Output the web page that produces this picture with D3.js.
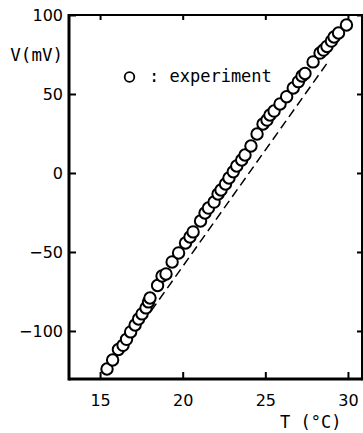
<!DOCTYPE html>
<html>
<head>
<meta charset="utf-8">
<script src="https://cdn.jsdelivr.net/npm/d3@7"></script>
<style>
  html, body { margin: 0; padding: 0; background: #fff; }
  svg { display: block; }
</style>
</head>
<body>
<svg id="chart" width="363" height="433"></svg>
<script>
// Measured temperature (°C) and voltage (mV)
const tempC = [15.42, 15.76, 16.11, 16.39, 16.60, 16.85, 17.12, 17.33, 17.54, 17.78,
  17.93, 18.02, 18.48, 18.75, 18.99, 19.36, 19.75, 20.17, 20.44, 20.63,
  21.08, 21.35, 21.56, 21.90, 22.14, 22.32, 22.59, 22.80, 23.06, 23.27,
  23.57, 23.77, 24.13, 24.50, 24.86, 25.10, 25.28, 25.53, 25.89, 26.29,
  26.69, 27.00, 27.22, 27.40, 27.89, 28.31, 28.52, 28.73, 29.00, 29.16,
  29.43, 29.91];
const voltMV = [-124.1, -118.4, -111.7, -109.1, -105.3, -100.6, -96.2, -92.4, -89.2, -85.4,
  -81.6, -79.1, -71.2, -65.2, -63.9, -56.3, -50.6, -44.3, -40.5, -37.3,
  -30.4, -25.3, -22.2, -18.4, -13.3, -10.8, -7.0, -3.2, 0.8, 4.4,
  8.2, 11.4, 17.1, 24.7, 31.0, 33.5, 36.7, 39.2, 43.7, 48.3,
  53.8, 57.8, 61.4, 63.0, 70.3, 75.9, 77.8, 80.1, 83.5, 86.1,
  88.6, 93.7];

// Calculated relation (dashed line)
const calcTemp = [18.09, 28.79];
const calcVolt = [-87.3, 70.3];

const xTicks = [15, 20, 25, 30];
const yTicks = [100, 50, 0, -50, -100];
const yLabelText = "V(mV)";
const xLabelText = "T (°C)";
const legendText = ": experiment";

const svg = d3.select("#chart");
const x = d3.scaleLinear().domain([13.12, 30.85]).range([69, 362]);
const y = d3.scaleLinear().domain([-130.4, 100]).range([379, 15]);

const [x0, x1] = x.range();
const [yb, yt] = y.range();
const numFont = "DejaVu Sans, sans-serif";
const monoFont = "DejaVu Sans Mono, monospace";

// Bottom axis with inward ticks
const gB = svg.append("g").attr("transform", `translate(0,${yb})`)
  .call(d3.axisBottom(x).tickValues(xTicks).tickSizeInner(-7).tickSizeOuter(0)
    .tickPadding(16).tickFormat(d3.format("d")));
// Top axis, ticks only
const gT = svg.append("g").attr("transform", `translate(0,${yt})`)
  .call(d3.axisTop(x).tickValues(xTicks).tickSizeInner(-5).tickSizeOuter(0).tickFormat(""));
// Left axis with inward ticks
const gL = svg.append("g").attr("transform", `translate(${x0},0)`)
  .call(d3.axisLeft(y).tickValues(yTicks).tickSizeInner(-7).tickSizeOuter(0)
    .tickPadding(6).tickFormat(d3.format("d")));
// Right axis, ticks only
const gR = svg.append("g").attr("transform", `translate(${x1},0)`)
  .call(d3.axisRight(y).tickValues(yTicks).tickSizeInner(-5).tickSizeOuter(0).tickFormat(""));

[gB, gT, gL, gR].forEach(g => {
  g.select(".domain").remove();
  g.selectAll(".tick line").attr("stroke", "#000").attr("stroke-width", 2);
  g.selectAll(".tick text").attr("fill", "#000")
    .attr("font-family", numFont).attr("font-size", 16);
});

// Frame
const frame = svg.append("g").attr("stroke", "#000").attr("fill", "none");
frame.append("line").attr("x1", x0).attr("x2", x1).attr("y1", yt).attr("y2", yt).attr("stroke-width", 2);
frame.append("line").attr("x1", x0).attr("x2", x1).attr("y1", yb).attr("y2", yb).attr("stroke-width", 3);
frame.append("line").attr("x1", x0).attr("x2", x0).attr("y1", yt - 1).attr("y2", yb + 1.5).attr("stroke-width", 3);
frame.append("line").attr("x1", x1).attr("x2", x1).attr("y1", yt - 1).attr("y2", yb + 1.5).attr("stroke-width", 2);

// Dashed calculated line
const calc = calcTemp.map((t, i) => [t, calcVolt[i]]);
svg.append("path")
  .datum(calc)
  .attr("d", d3.line().x(d => x(d[0])).y(d => y(d[1])))
  .attr("fill", "none").attr("stroke", "#000")
  .attr("stroke-width", 1.5).attr("stroke-dasharray", "9,5");

// Experimental points
const pts = tempC.map((t, i) => [t, voltMV[i]]);
svg.append("g").selectAll("circle").data(pts).join("circle")
  .attr("cx", d => x(d[0])).attr("cy", d => y(d[1]))
  .attr("r", 5.7).attr("fill", "#fff").attr("stroke", "#000").attr("stroke-width", 2);

// Legend
svg.append("circle").attr("cx", 129.5).attr("cy", 77).attr("r", 4.8)
  .attr("fill", "none").attr("stroke", "#000").attr("stroke-width", 1.8);
svg.append("text").attr("x", 149).attr("y", 82)
  .attr("font-family", monoFont).attr("font-size", 17).attr("fill", "#000")
  .attr("xml:space", "preserve").text(legendText);

// Axis titles
svg.append("text").attr("x", 63).attr("y", 61).attr("text-anchor", "end")
  .attr("font-family", monoFont).attr("font-size", 17.5).attr("fill", "#000")
  .text(yLabelText);
svg.append("text").attr("x", 280).attr("y", 428)
  .attr("font-family", monoFont).attr("font-size", 17).attr("fill", "#000")
  .attr("xml:space", "preserve").text(xLabelText);
</script>
</body>
</html>
